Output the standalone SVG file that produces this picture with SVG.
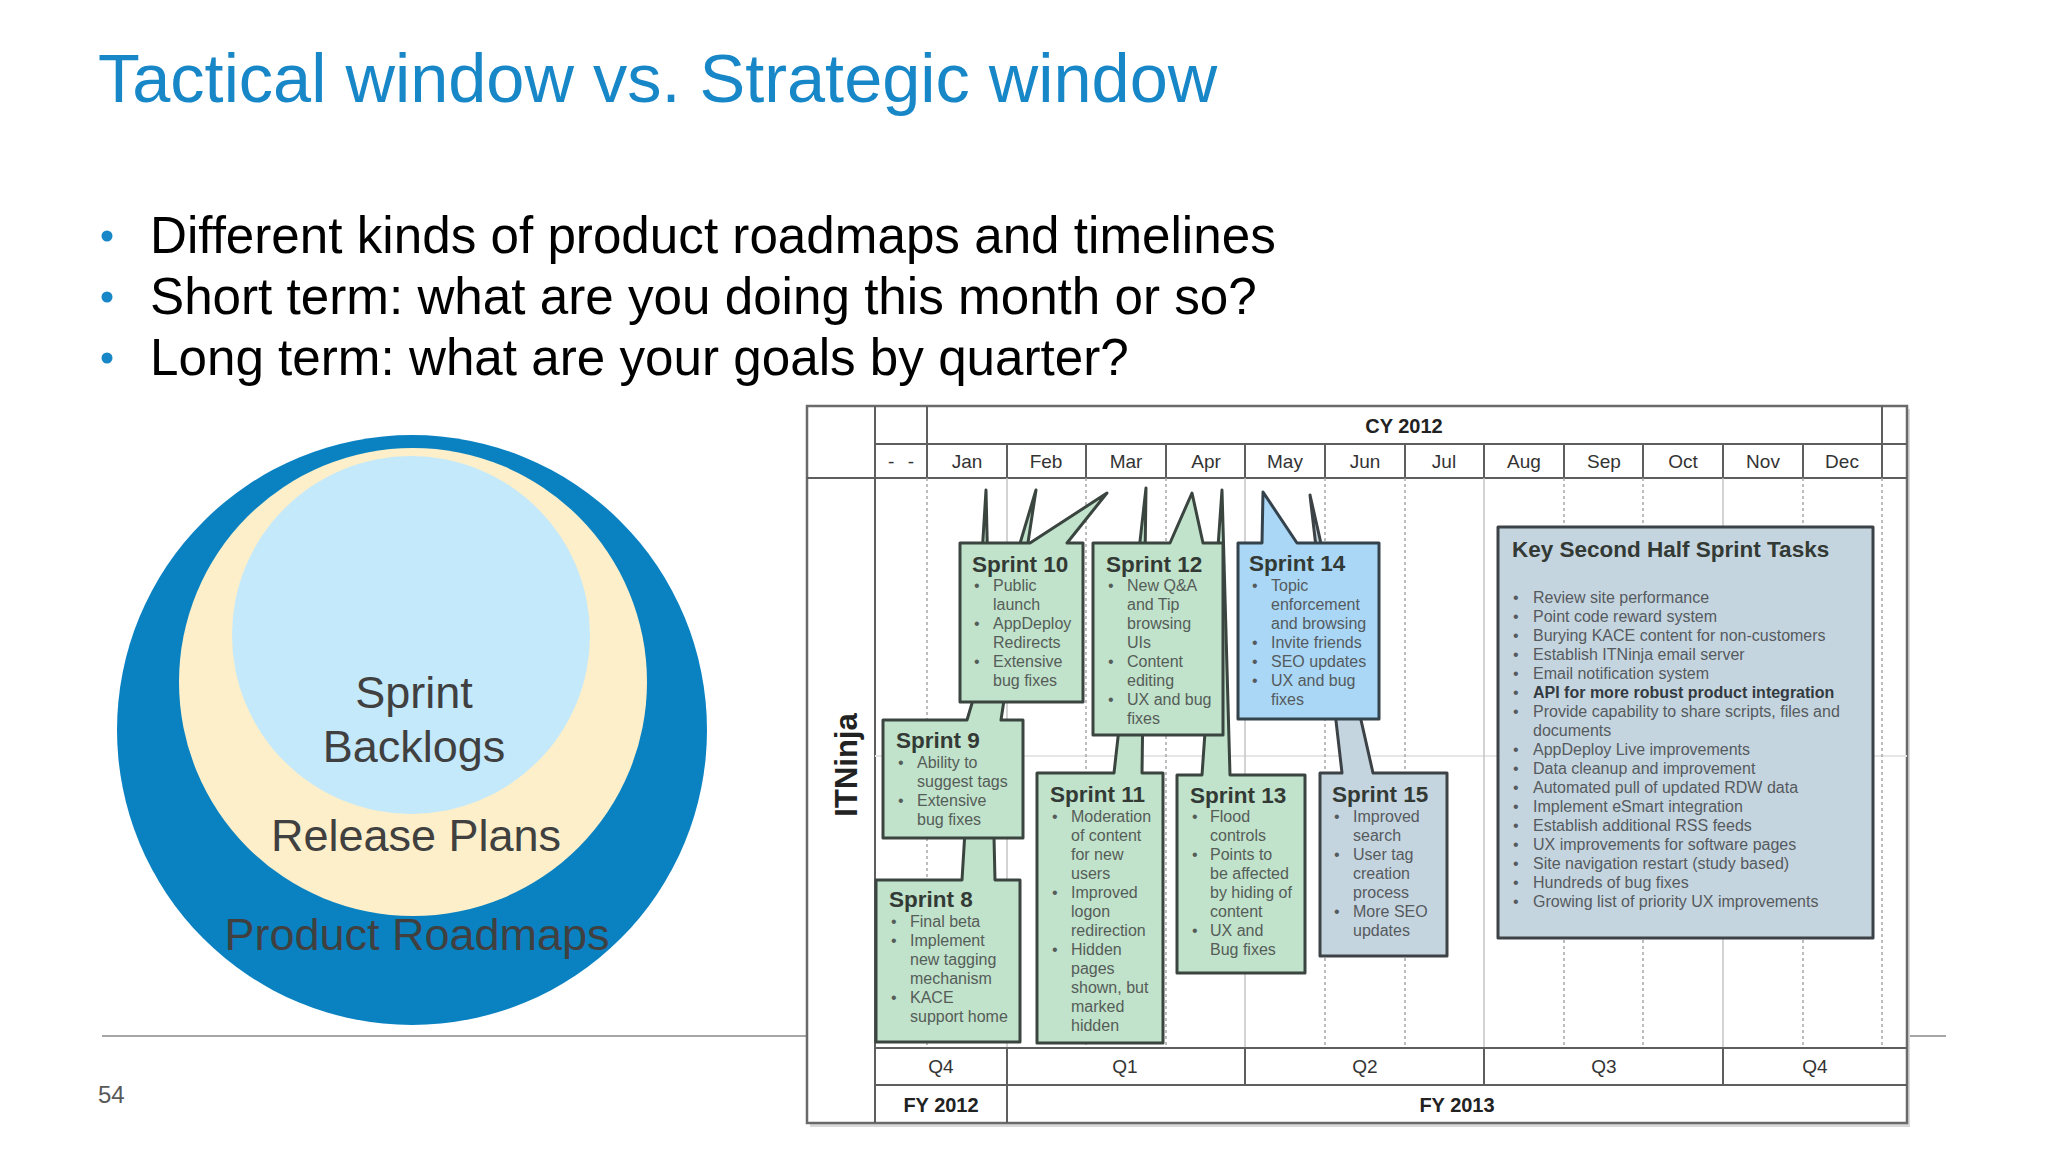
<svg xmlns="http://www.w3.org/2000/svg" width="2048" height="1152" viewBox="0 0 2048 1152">
<defs>
<style>
text{font-family:"Liberation Sans",Arial,sans-serif}
.title{font-size:68.5px;fill:#1787c8}
.bul{font-size:51.2px;fill:#000}
.dot{fill:#1787c8}
.circ{font-size:45px;fill:#404040;text-anchor:middle}
.pg{font-size:24px;fill:#595959}
.frame{fill:#fff;stroke:#6a6a6a;stroke-width:2.5}
.hl{stroke:#5e5e5e;stroke-width:2;fill:none}
.dotl{stroke:#a8a8a8;stroke-width:1.5;stroke-dasharray:3 3;fill:none}
.ql{stroke:#c4c4c4;stroke-width:1.5;fill:none}
.hdr{font-size:19px;fill:#333;text-anchor:middle}
.hdrb{font-size:20px;fill:#222;font-weight:bold;text-anchor:middle}
.green{fill:#c1e2cb;stroke:#3b4540;stroke-width:3;stroke-linejoin:round}
.blue{fill:#a9d7f5;stroke:#34424c;stroke-width:3;stroke-linejoin:round}
.grey{fill:#c5d5df;stroke:#3d4246;stroke-width:3;stroke-linejoin:round}
.st{font-size:22.5px;font-weight:bold;fill:#333a35}
.sb{font-size:16px;fill:#555d58}
.kb{font-size:16px;fill:#555a5e}
</style>
</defs>
<rect width="2048" height="1152" fill="#fff"/>

<g id="slide-title">
<text class="title" x="98" y="102">Tactical window vs. Strategic window</text>
</g>

<g id="bullets">
<circle class="dot" cx="107" cy="236" r="5.5"/>
<text class="bul" x="150" y="253">Different kinds of product roadmaps and timelines</text>
<circle class="dot" cx="107" cy="297" r="5.5"/>
<text class="bul" x="150" y="314">Short term: what are you doing this month or so?</text>
<circle class="dot" cx="107" cy="358" r="5.5"/>
<text class="bul" x="150" y="375">Long term: what are your goals by quarter?</text>
</g>

<g id="footer">
<line x1="102" y1="1036" x2="810" y2="1036" stroke="#a6a6a6" stroke-width="2"/>
<line x1="1908" y1="1036" x2="1946" y2="1036" stroke="#a6a6a6" stroke-width="2"/>
<text class="pg" x="98" y="1103">54</text>
</g>

<g id="circles">
<g id="product-roadmaps">
<circle cx="412" cy="730" r="295" fill="#0a82c2"/>
</g>
<g id="release-plans">
<circle cx="413" cy="682" r="234" fill="#fcefca"/>
</g>
<g id="sprint-backlogs">
<circle cx="411" cy="635" r="179" fill="#c4e9fb"/>
<text class="circ" x="414" y="708">Sprint</text>
<text class="circ" x="414" y="762">Backlogs</text>
</g>
<text class="circ" x="416" y="851">Release Plans</text>
<text class="circ" x="417" y="950">Product Roadmaps</text>
</g>

<g id="timeline">
<rect x="810" y="409" width="1100" height="718" fill="#d9d9d9"/>
<rect class="frame" x="807" y="406" width="1100" height="717"/>
<line class="hl" x1="875" y1="406" x2="875" y2="1123"/>
<line class="hl" x1="927" y1="406" x2="927" y2="478"/>
<line class="hl" x1="1882" y1="406" x2="1882" y2="478"/>
<line class="hl" x1="875" y1="444" x2="1907" y2="444"/>
<line class="hl" x1="807" y1="478" x2="1907" y2="478"/>
<g class="hl">
<line x1="1007" y1="444" x2="1007" y2="478"/>
<line x1="1086" y1="444" x2="1086" y2="478"/>
<line x1="1166" y1="444" x2="1166" y2="478"/>
<line x1="1245" y1="444" x2="1245" y2="478"/>
<line x1="1325" y1="444" x2="1325" y2="478"/>
<line x1="1405" y1="444" x2="1405" y2="478"/>
<line x1="1484" y1="444" x2="1484" y2="478"/>
<line x1="1564" y1="444" x2="1564" y2="478"/>
<line x1="1643" y1="444" x2="1643" y2="478"/>
<line x1="1723" y1="444" x2="1723" y2="478"/>
<line x1="1803" y1="444" x2="1803" y2="478"/>
</g>
<line x1="875" y1="756" x2="1907" y2="756" stroke="#e6e6e6" stroke-width="2"/>
<g class="dotl">
<line x1="927" y1="478" x2="927" y2="1048"/>
<line x1="1086" y1="478" x2="1086" y2="1048"/>
<line x1="1166" y1="478" x2="1166" y2="1048"/>
<line x1="1325" y1="478" x2="1325" y2="1048"/>
<line x1="1405" y1="478" x2="1405" y2="1048"/>
<line x1="1564" y1="478" x2="1564" y2="1048"/>
<line x1="1643" y1="478" x2="1643" y2="1048"/>
<line x1="1803" y1="478" x2="1803" y2="1048"/>
<line x1="1882" y1="478" x2="1882" y2="1048"/>
</g>
<g class="ql">
<line x1="1007" y1="478" x2="1007" y2="1048"/>
<line x1="1245" y1="478" x2="1245" y2="1048"/>
<line x1="1484" y1="478" x2="1484" y2="1048"/>
<line x1="1723" y1="478" x2="1723" y2="1048"/>
</g>
<line class="hl" x1="875" y1="1048" x2="1907" y2="1048"/>
<line class="hl" x1="875" y1="1085" x2="1907" y2="1085"/>
<g class="hl">
<line x1="1007" y1="1048" x2="1007" y2="1123"/>
<line x1="1245" y1="1048" x2="1245" y2="1085"/>
<line x1="1484" y1="1048" x2="1484" y2="1085"/>
<line x1="1723" y1="1048" x2="1723" y2="1085"/>
</g>
<text class="hdrb" x="1404" y="433">CY 2012</text>
<text class="hdr" x="901" y="468" word-spacing="8">- -</text>
<text class="hdr" x="967" y="468">Jan</text>
<text class="hdr" x="1046" y="468">Feb</text>
<text class="hdr" x="1126" y="468">Mar</text>
<text class="hdr" x="1206" y="468">Apr</text>
<text class="hdr" x="1285" y="468">May</text>
<text class="hdr" x="1365" y="468">Jun</text>
<text class="hdr" x="1444" y="468">Jul</text>
<text class="hdr" x="1524" y="468">Aug</text>
<text class="hdr" x="1604" y="468">Sep</text>
<text class="hdr" x="1683" y="468">Oct</text>
<text class="hdr" x="1763" y="468">Nov</text>
<text class="hdr" x="1842" y="468">Dec</text>
<text class="hdr" x="941" y="1073">Q4</text>
<text class="hdr" x="1125" y="1073">Q1</text>
<text class="hdr" x="1365" y="1073">Q2</text>
<text class="hdr" x="1604" y="1073">Q3</text>
<text class="hdr" x="1815" y="1073">Q4</text>
<text class="hdrb" x="941" y="1112">FY 2012</text>
<text class="hdrb" x="1457" y="1112">FY 2013</text>
<text x="857" y="765" font-size="31" font-weight="bold" fill="#222" text-anchor="middle" transform="rotate(-90 857 765)">ITNinja</text>
</g>

<g id="sprint-8">
<path class="green" d="M876,880 H962 L986,490 L995,880 H1020 V1042 H876 Z"/>
<text class="st" x="889" y="907">Sprint 8</text>
<text class="sb"><tspan x="891" y="927">•</tspan><tspan x="910" y="927">Final beta</tspan><tspan x="891" y="946">•</tspan><tspan x="910" y="946">Implement</tspan><tspan x="910" y="965">new tagging</tspan><tspan x="910" y="984">mechanism</tspan><tspan x="891" y="1003">•</tspan><tspan x="910" y="1003">KACE</tspan><tspan x="910" y="1022">support home</tspan></text>
</g>

<g id="sprint-9">
<path class="green" d="M883,720 H967 L1036,490 L1001,720 H1023 V838 H883 Z"/>
<text class="st" x="896" y="748">Sprint 9</text>
<text class="sb"><tspan x="898" y="768">•</tspan><tspan x="917" y="768">Ability to</tspan><tspan x="917" y="787">suggest tags</tspan><tspan x="898" y="806">•</tspan><tspan x="917" y="806">Extensive</tspan><tspan x="917" y="825">bug fixes</tspan></text>
</g>

<g id="sprint-10">
<path class="green" d="M960,543 H1030 L1107,493 L1067,543 H1083 V702 H960 Z"/>
<text class="st" x="972" y="572">Sprint 10</text>
<text class="sb"><tspan x="974" y="591">•</tspan><tspan x="993" y="591">Public</tspan><tspan x="993" y="610">launch</tspan><tspan x="974" y="629">•</tspan><tspan x="993" y="629">AppDeploy</tspan><tspan x="993" y="648">Redirects</tspan><tspan x="974" y="667">•</tspan><tspan x="993" y="667">Extensive</tspan><tspan x="993" y="686">bug fixes</tspan></text>
</g>

<g id="sprint-11">
<path class="green" d="M1037,773 H1114 L1146,488 L1142,773 H1163 V1043 H1037 Z"/>
<text class="st" x="1050" y="802">Sprint 11</text>
<text class="sb"><tspan x="1052" y="822">•</tspan><tspan x="1071" y="822">Moderation</tspan><tspan x="1071" y="841">of content</tspan><tspan x="1071" y="860">for new</tspan><tspan x="1071" y="879">users</tspan><tspan x="1052" y="898">•</tspan><tspan x="1071" y="898">Improved</tspan><tspan x="1071" y="917">logon</tspan><tspan x="1071" y="936">redirection</tspan><tspan x="1052" y="955">•</tspan><tspan x="1071" y="955">Hidden</tspan><tspan x="1071" y="974">pages</tspan><tspan x="1071" y="993">shown, but</tspan><tspan x="1071" y="1012">marked</tspan><tspan x="1071" y="1031">hidden</tspan></text>
</g>

<g id="sprint-13">
<path class="green" d="M1177,775 H1202 L1222,490 L1230,775 H1305 V973 H1177 Z"/>
<text class="st" x="1190" y="803">Sprint 13</text>
<text class="sb"><tspan x="1192" y="822">•</tspan><tspan x="1210" y="822">Flood</tspan><tspan x="1210" y="841">controls</tspan><tspan x="1192" y="860">•</tspan><tspan x="1210" y="860">Points to</tspan><tspan x="1210" y="879">be affected</tspan><tspan x="1210" y="898">by hiding of</tspan><tspan x="1210" y="917">content</tspan><tspan x="1192" y="936">•</tspan><tspan x="1210" y="936">UX and</tspan><tspan x="1210" y="955">Bug fixes</tspan></text>
</g>

<g id="sprint-12">
<path class="green" d="M1093,543 H1170 L1192,493 L1203,543 H1223 V735 H1093 Z"/>
<text class="st" x="1106" y="572">Sprint 12</text>
<text class="sb"><tspan x="1108" y="591">•</tspan><tspan x="1127" y="591">New Q&amp;A</tspan><tspan x="1127" y="610">and Tip</tspan><tspan x="1127" y="629">browsing</tspan><tspan x="1127" y="648">UIs</tspan><tspan x="1108" y="667">•</tspan><tspan x="1127" y="667">Content</tspan><tspan x="1127" y="686">editing</tspan><tspan x="1108" y="705">•</tspan><tspan x="1127" y="705">UX and bug</tspan><tspan x="1127" y="724">fixes</tspan></text>
</g>

<g id="sprint-15">
<path class="grey" d="M1320,773 H1342 L1310,495 L1373,773 H1447 V956 H1320 Z"/>
<text class="st" x="1332" y="802" fill="#333a40">Sprint 15</text>
<text class="kb"><tspan x="1334" y="822">•</tspan><tspan x="1353" y="822">Improved</tspan><tspan x="1353" y="841">search</tspan><tspan x="1334" y="860">•</tspan><tspan x="1353" y="860">User tag</tspan><tspan x="1353" y="879">creation</tspan><tspan x="1353" y="898">process</tspan><tspan x="1334" y="917">•</tspan><tspan x="1353" y="917">More SEO</tspan><tspan x="1353" y="936">updates</tspan></text>
</g>

<g id="sprint-14">
<path class="blue" d="M1238,543 H1262 L1263,492 L1297,543 H1379 V719 H1238 Z"/>
<text class="st" x="1249" y="571" fill="#2c3844">Sprint 14</text>
<text class="kb" fill="#45525c"><tspan x="1252" y="591">•</tspan><tspan x="1271" y="591">Topic</tspan><tspan x="1271" y="610">enforcement</tspan><tspan x="1271" y="629">and browsing</tspan><tspan x="1252" y="648">•</tspan><tspan x="1271" y="648">Invite friends</tspan><tspan x="1252" y="667">•</tspan><tspan x="1271" y="667">SEO updates</tspan><tspan x="1252" y="686">•</tspan><tspan x="1271" y="686">UX and bug</tspan><tspan x="1271" y="705">fixes</tspan></text>
</g>

<g id="key-second-half">
<rect class="grey" x="1498" y="527" width="375" height="411"/>
<text class="st" x="1512" y="557" fill="#333a40">Key Second Half Sprint Tasks</text>
<text class="kb">
<tspan x="1513" y="603">•</tspan><tspan x="1533" y="603">Review site performance</tspan>
<tspan x="1513" y="622">•</tspan><tspan x="1533" y="622">Point code reward system</tspan>
<tspan x="1513" y="641">•</tspan><tspan x="1533" y="641">Burying KACE content for non-customers</tspan>
<tspan x="1513" y="660">•</tspan><tspan x="1533" y="660">Establish ITNinja email server</tspan>
<tspan x="1513" y="679">•</tspan><tspan x="1533" y="679">Email notification system</tspan>
<tspan x="1513" y="698">•</tspan><tspan x="1533" y="698" font-weight="bold" fill="#333a40">API for more robust product integration</tspan>
<tspan x="1513" y="717">•</tspan><tspan x="1533" y="717">Provide capability to share scripts, files and</tspan>
<tspan x="1533" y="736">documents</tspan>
<tspan x="1513" y="755">•</tspan><tspan x="1533" y="755">AppDeploy Live improvements</tspan>
<tspan x="1513" y="774">•</tspan><tspan x="1533" y="774">Data cleanup and improvement</tspan>
<tspan x="1513" y="793">•</tspan><tspan x="1533" y="793">Automated pull of updated RDW data</tspan>
<tspan x="1513" y="812">•</tspan><tspan x="1533" y="812">Implement eSmart integration</tspan>
<tspan x="1513" y="831">•</tspan><tspan x="1533" y="831">Establish additional RSS feeds</tspan>
<tspan x="1513" y="850">•</tspan><tspan x="1533" y="850">UX improvements for software pages</tspan>
<tspan x="1513" y="869">•</tspan><tspan x="1533" y="869">Site navigation restart (study based)</tspan>
<tspan x="1513" y="888">•</tspan><tspan x="1533" y="888">Hundreds of bug fixes</tspan>
<tspan x="1513" y="907">•</tspan><tspan x="1533" y="907">Growing list of priority UX improvements</tspan>
</text>
</g>

<g id="connectors"></g>
</svg>
